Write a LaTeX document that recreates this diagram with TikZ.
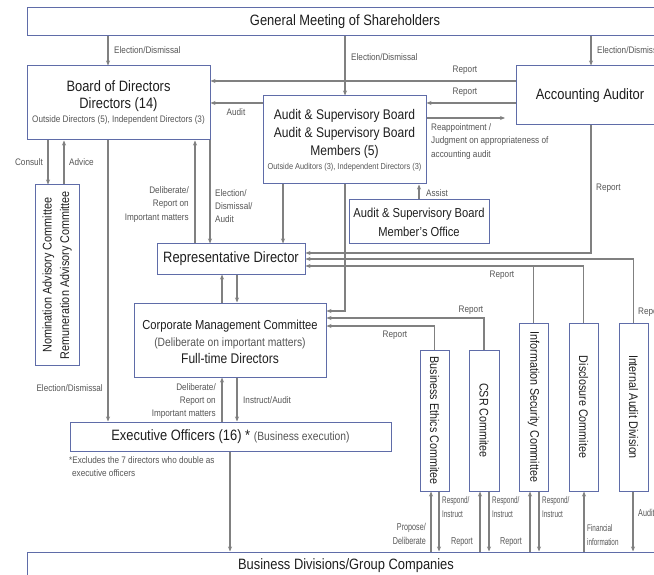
\documentclass[tikz,border=0pt]{standalone}
\usepackage{fontspec}
\setmainfont{Liberation Sans}[FakeStretch=0.86]
\newfontfamily\narrowfont{Liberation Sans}[FakeStretch=0.72]
\newfontfamily\xnarrowfont{Liberation Sans}[FakeStretch=0.66]
\usetikzlibrary{arrows.meta}
\definecolor{boxc}{RGB}{95,108,168}
\definecolor{linec}{RGB}{128,128,128}
\definecolor{labc}{RGB}{85,85,85}
\definecolor{txtc}{RGB}{30,30,30}
\newcommand\fsz[2]{\fontsize{#1}{#2}\selectfont}
\begin{document}
\begin{tikzpicture}[x=1pt,y=-1pt,
 box/.style={draw=boxc, line width=1pt, inner sep=0pt, text=txtc, align=center},
 rtext/.style={text=txtc, inner sep=0pt, align=center},
 conn/.style={draw=linec, line width=1.1pt},
 arr/.style={conn, -{Stealth[length=5pt,width=4pt]}},
 lab/.style={text=labc, font=\fsz{9.5}{13.3}, inner sep=0pt},
 blab/.style={text=labc, font=\narrowfont\fsz{10}{14}, inner sep=0pt},
 slab/.style={text=labc, font=\xnarrowfont\fsz{9.6}{14}, inner sep=0pt},
]
\useasboundingbox (0,0) rectangle (654,575);
\clip (0,0) rectangle (654,575);

% boxes
\node[box, minimum width=636, minimum height=28, font=\fsz{15}{17}] (gm) at (345,22) {General Meeting of Shareholders};
\node[box, minimum width=183, minimum height=74, font=\fsz{15}{17}] (bod) at (118.5,103) {Board of Directors\\Directors (14)\\[-3pt]{\color{labc}\fsz{9.5}{12}Outside Directors (5), Independent Directors (3)}};
\node[box, minimum width=163, minimum height=88, font=\fsz{14}{18}] (ab) at (344.5,140) {Audit \& Supervisory Board\\Audit \& Supervisory Board\\Members (5)\\[-4pt]{\color{labc}\fsz{8.6}{12}Outside Auditors (3), Independent Directors (3)}};
\node[box, minimum width=140, minimum height=44, font=\fsz{13}{19}] (of) at (419,222) {Audit \& Supervisory Board\\Member’s Office};
\node[box, minimum width=148, minimum height=59, font=\fsz{15}{17}] (aa) at (590,95.5) {Accounting Auditor};
\node[box, minimum width=44, minimum height=180] (nac) at (57,275) {};
\node[rtext, rotate=90, font=\fsz{12.6}{17.5}] (nact) at (nac.center) {Nomination Advisory Committee\\Remuneration Advisory Committee};
\node[box, minimum width=148, minimum height=30, font=\fsz{15}{17}] (rd) at (231,259) {Representative Director};
\node[box, minimum width=192, minimum height=74, font=\fsz{13}{17}] (cmc) at (230,340) {\rule{0pt}{14pt}Corporate Management Committee\\{\color{labc}\fsz{12}{17}(Deliberate on important matters)}\\{\fsz{14}{17}Full-time Directors}};
\node[box, minimum width=321, minimum height=29, font=\fsz{15}{17}] (eo) at (230.5,436.5) {Executive Officers (16) * {\color{labc}\fsz{12}{14}(Business execution)}};
\node[box, minimum width=638, minimum height=28, font=\fsz{15}{17}] (bd) at (346,566) {Business Divisions/Group Companies};

\node[box, minimum width=29, minimum height=141] (be) at (434.5,420.5) {};
\node[rtext, rotate=-90, font=\fsz{12.5}{15}] (bet) at (be.center) {Business Ethics Commitee};
\node[box, minimum width=30, minimum height=141] (csr) at (484,420.5) {};
\node[rtext, rotate=-90, font=\fsz{12.5}{15}] (csrt) at (csr.center) {CSR Commitee};
\node[box, minimum width=29, minimum height=168] (isc) at (533.5,407) {};
\node[rtext, rotate=-90, font=\fsz{12.5}{15}] (isct) at (isc.center) {Information Security Committee};
\node[box, minimum width=29, minimum height=168] (dc) at (583.5,407) {};
\node[rtext, rotate=-90, font=\fsz{12.5}{15}] (dct) at (dc.center) {Disclosure Commitee};
\node[box, minimum width=29, minimum height=168] (iad) at (633.5,407) {};
\node[rtext, rotate=-90, font=\fsz{12.5}{15}] (iadt) at (iad.center) {Internal Audit Division};

\coordinate (reapp) at (505,118);

% connectors
\draw[arr] (gm.south -| 108,0) -- (bod.north -| 108,0);
\draw[arr] (gm.south -| 345,0) -- (ab.north -| 345,0);
\draw[arr] (gm.south -| 591,0) -- (aa.north -| 591,0);
\draw[arr] (aa.west |- 0,81) -- (bod.east |- 0,81);
\draw[arr] (aa.west |- 0,103) -- (ab.east |- 0,103);
\draw[arr] (ab.east |- reapp) -- (reapp);
\draw[arr] (ab.west |- 0,103) -- (bod.east |- 0,103);
\draw[arr] (bod.south -| 48,0) -- (nac.north -| 48,0);
\draw[arr] (nac.north -| 64,0) -- (bod.south -| 64,0);
\draw[arr] (bod.south -| 108,0) -- (eo.north -| 108,0);
\draw[arr] (rd.north -| 195,0) -- (bod.south -| 195,0);
\draw[arr] (bod.south -| 210,0) -- (rd.north -| 210,0);
\draw[arr] (ab.south -| 283,0) -- (rd.north -| 283,0);
\draw[arr] (ab.south -| 345,0) |- (cmc.east |- 0,311);
\draw[arr] (of.north -| 419,0) -- (ab.south -| 419,0);
\draw[arr] (aa.south -| 591,0) |- (rd.east |- 0,253);
\draw[arr] (iad.north) |- (rd.east |- 0,259);
\draw[arr] (dc.north) |- (rd.east |- 0,266);
\draw[conn] (isc.north) -- (isc.north |- 0,266);
\draw[arr] (cmc.north -| 222,0) -- (rd.south -| 222,0);
\draw[arr] (rd.south -| 237,0) -- (cmc.north -| 237,0);
\draw[arr] (csr.north) |- (cmc.east |- 0,318);
\draw[arr] (be.north) |- (cmc.east |- 0,326);
\draw[arr] (eo.north -| 222,0) -- (cmc.south -| 222,0);
\draw[arr] (cmc.south -| 237,0) -- (eo.north -| 237,0);
\draw[arr] (eo.south -| 230,0) -- (bd.north -| 230,0);
\draw[arr] (bd.north -| 431,0) -- (be.south -| 431,0);
\draw[arr] (be.south -| 439,0) -- (bd.north -| 439,0);
\draw[arr] (bd.north -| 480,0) -- (csr.south -| 480,0);
\draw[arr] (csr.south -| 489,0) -- (bd.north -| 489,0);
\draw[arr] (bd.north -| 530,0) -- (isc.south -| 530,0);
\draw[arr] (isc.south -| 539,0) -- (bd.north -| 539,0);
\draw[arr] (bd.north -| 584,0) -- (dc.south -| 584,0);
\draw[arr] (iad.south -| 633,0) -- (bd.north -| 633,0);

% labels
\node[lab, anchor=west] (l1) at (114,50) {Election/Dismissal};
\node[lab, anchor=west] (l2) at (351,57) {Election/Dismissal};
\node[lab, anchor=west] (l3) at (597,50) {Election/Dismissal};
\node[lab] (l4) at (465,70) {Report};
\node[lab] (l5) at (465,92) {Report};
\node[lab] (l6) at (236,112) {Audit};
\node[lab, anchor=west, align=left] (l7) at (431,141.5) {Reappointment /\\Judgment on appropriateness of\\accounting audit};
\node[lab, anchor=west] (l8) at (596,188) {Report};
\node[lab, anchor=east] (l9) at (43,162) {Consult};
\node[lab, anchor=west] (l10) at (69,162) {Advice};
\node[lab, anchor=east, align=right] (l11) at (189,204.5) {Deliberate/\\Report on\\Important matters};
\node[lab, anchor=west, align=left] (l12) at (215,206) {Election/\\Dismissal/\\Audit};
\node[lab, anchor=west] (l13) at (426,193) {Assist};
\node[lab] (l14) at (502,275) {Report};
\node[lab, anchor=west] (l15) at (638,312) {Report};
\node[lab] (l16) at (471,310) {Report};
\node[lab] (l17) at (395,335) {Report};
\node[lab, anchor=east] (l18) at (103,388) {Election/Dismissal};
\node[lab, anchor=east, align=right] (l19) at (216,401) {Deliberate/\\Report on\\Important matters};
\node[lab, anchor=west] (l20) at (243,400) {Instruct/Audit};
\node[lab, anchor=west, align=left] (l21) at (69,466.5) {*Excludes the 7 directors who double as\\\hspace{3pt}executive officers};

\node[blab, anchor=east, align=right] (b1) at (426,534) {Propose/\\Deliberate};
\node[slab, anchor=west, align=left] (b2) at (442,507) {Respond/\\Instruct};
\node[blab] (b3) at (462,542) {Report};
\node[slab, anchor=west, align=left] (b4) at (492,507) {Respond/\\Instruct};
\node[blab] (b5) at (511,542) {Report};
\node[slab, anchor=west, align=left] (b6) at (542,507) {Respond/\\Instruct};
\node[slab, anchor=west, align=left] (b7) at (587,535) {Financial\\information};
\node[blab, anchor=west] (b8) at (638,513) {Audit};
\end{tikzpicture}
\end{document}
